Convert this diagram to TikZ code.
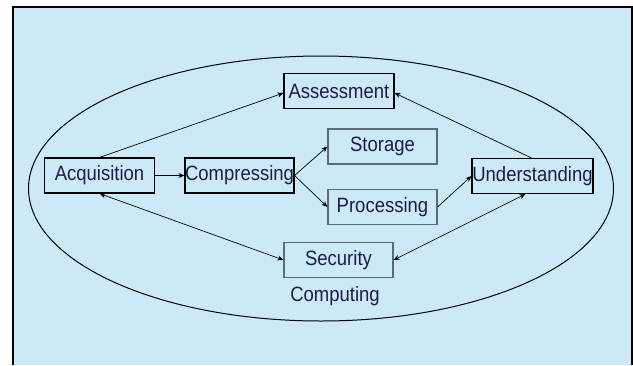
\documentclass[tikz,border=0pt]{standalone}
\usepackage{fontspec}
\setmainfont{Liberation Sans}
\usetikzlibrary{arrows.meta,shapes.geometric}
\definecolor{bgblue}{RGB}{204,233,248}
\definecolor{txt}{RGB}{28,28,70}
\definecolor{graybox}{RGB}{95,105,115}
\newcommand{\tall}[1]{\scalebox{1}[1.12]{#1}}
\tikzset{
  box/.style={draw=black, line width=1.1pt, minimum height=35pt, inner sep=0pt, text=txt, font=\fontsize{18.5}{20}\selectfont},
  gbox/.style={box, draw=graybox},
  conn/.style={line width=0.7pt, -{Stealth[length=6pt,width=5pt]}},
  biconn/.style={line width=0.7pt, {Stealth[length=6pt,width=5pt]}-{Stealth[length=6pt,width=5pt]}},
}
\begin{document}
\begin{tikzpicture}[x=1pt,y=-1pt]
\useasboundingbox (0,0) rectangle (633,365);
\fill[white] (0,0) rectangle (633,365);
\fill[bgblue] (13,7) rectangle (632,365);
\draw[line width=2pt] (13,365) -- (13,7) -- (632,7) -- (632,365);
\node[draw, line width=1pt, ellipse, minimum width=585pt, minimum height=265pt, inner sep=0pt] (ell) at (321,188.5) {};
\node[box, minimum width=110pt] (acq) at (99.5,175.5) {\tall{Acquisition}};
\node[box, minimum width=109pt] (comp) at (239.5,175.5) {\tall{Compressing}};
\node[box, minimum width=110pt] (ass) at (339,91) {\tall{Assessment}};
\node[gbox, minimum width=109pt] (sto) at (382.5,146.5) {\tall{Storage}};
\node[gbox, minimum width=109pt] (proc) at (382.5,207) {\tall{Processing}};
\node[box, minimum width=121pt] (und) at (532.5,176) {\tall{Understanding}};
\node[gbox, minimum width=109pt] (sec) at (338.5,260) {\tall{Security}};
\node[text=txt, font=\fontsize{18.5}{20}\selectfont] (cmp) at (335,296) {\tall{Computing}};
\draw[conn] (acq.north) -- ([yshift=-2pt]ass.west);
\draw[conn] ([xshift=-1pt]und.north) -- ([yshift=-2pt]ass.east);
\draw[conn] (acq.east) -- (comp.west);
\draw[conn] (comp.east) -- (sto.west);
\draw[conn] (comp.east) -- (proc.west);
\draw[conn] (proc.east) -- (und.west);
\draw[biconn] (acq.south) -- (sec.west);
\draw[biconn] ([xshift=-7pt]und.south) -- (sec.east);
\end{tikzpicture}
\end{document}
